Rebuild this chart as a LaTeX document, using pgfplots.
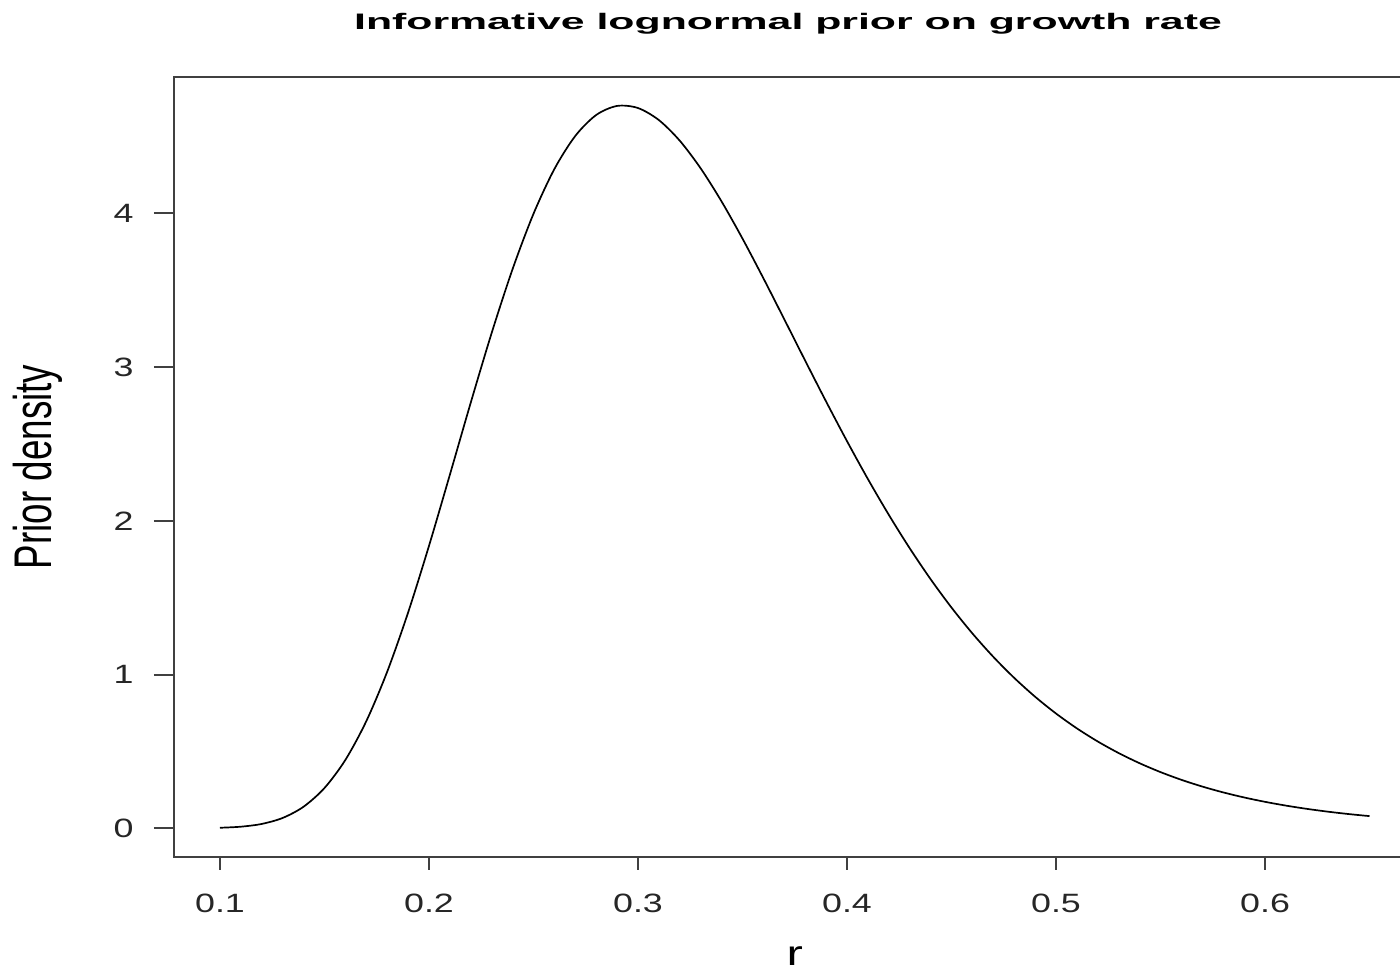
\documentclass[border=0pt]{standalone}
\usepackage{pgfplots}
\pgfplotsset{compat=1.18}
\usepackage{fontspec}
\setmainfont{Liberation Sans}
\newfontfamily\titlefont[FakeStretch=1.91]{Liberation Sans}
\newfontfamily\tickfont[FakeStretch=1.35]{Liberation Sans}
\newfontfamily\ylabfont[FakeStretch=0.694]{Liberation Sans}
\newfontfamily\xlabfont[FakeStretch=1.4]{Liberation Sans}
\definecolor{axisgray}{HTML}{404040}
\begin{document}
\begin{tikzpicture}
\begin{axis}[
  at={(0,0)}, anchor=south west,
  scale only axis,
  width=620.75pt, height=389.8pt,
  xmin=0.078, xmax=0.672,
  ymin=-0.185, ymax=4.888,
  axis line style={axisgray, line width=1pt},
  xtick={0.1,0.2,0.3,0.4,0.5,0.6},
  ytick={0,1,2,3,4},
  xticklabels={0.1,0.2,0.3,0.4,0.5,0.6},
  yticklabels={0,1,2,3,4},
  tick align=outside,
  xtick pos=bottom, ytick pos=left,
  xtick style={axisgray, line width=1pt, /pgfplots/major tick length=6.5pt},
  ytick style={axisgray, line width=1pt, /pgfplots/major tick length=10pt},
  /pgf/number format/assume math mode=true,
  xticklabel style={font=\tickfont\fontsize{13.25}{15}\selectfont, anchor=center, yshift=-19.2pt, text=black!85},
  yticklabel style={font=\tickfont\fontsize{13.25}{15}\selectfont, anchor=center, xshift=-21pt, text=black!85},
  title={Informative lognormal prior on growth rate},
  title style={font=\titlefont\bfseries\fontsize{11.2}{13}\selectfont, at={(axis description cs:0.5,1)}, anchor=base, yshift=17.8pt, xshift=-3.4pt},
  xlabel={r},
  xlabel style={font=\xlabfont\fontsize{17.5}{20}\selectfont, at={(axis description cs:0.5,0)}, anchor=base, yshift=-54.4pt},
  ylabel={Prior density},
  ylabel style={font=\ylabfont\fontsize{26.5}{30}\selectfont, at={(axis description cs:-0.1096,0.5)}, anchor=center, rotate=0},
  clip=false,
]
\addplot[black, line width=0.85pt, smooth] table {
x y
0.10 0.00274
0.11 0.00967
0.12 0.02763
0.13 0.06661
0.14 0.13975
0.15 0.26141
0.16 0.44422
0.17 0.69611
0.18 1.01806
0.19 1.40301
0.20 1.83701
0.21 2.30030
0.22 2.76993
0.23 3.22300
0.24 3.63817
0.25 3.99786
0.26 4.28923
0.27 4.50450
0.28 4.64080
0.29 4.69966
0.30 4.68604
0.31 4.60749
0.32 4.47318
0.33 4.29324
0.34 4.07771
0.35 3.83636
0.36 3.57817
0.37 3.31107
0.38 3.04188
0.39 2.77614
0.40 2.51833
0.41 2.27177
0.42 2.03897
0.43 1.82147
0.44 1.62019
0.45 1.43546
0.46 1.26717
0.47 1.11489
0.48 0.97789
0.49 0.85530
0.50 0.74611
0.51 0.64931
0.52 0.56383
0.53 0.48859
0.54 0.42261
0.55 0.36491
0.56 0.31459
0.57 0.27082
0.58 0.23282
0.59 0.19992
0.60 0.17147
0.61 0.14692
0.62 0.12577
0.63 0.10758
0.64 0.09194
0.65 0.07853
};
\end{axis}
\pgfresetboundingbox
\path[use as bounding box] (-87pt,-56.7pt) rectangle (613pt,428.3pt);
\end{tikzpicture}
\end{document}
